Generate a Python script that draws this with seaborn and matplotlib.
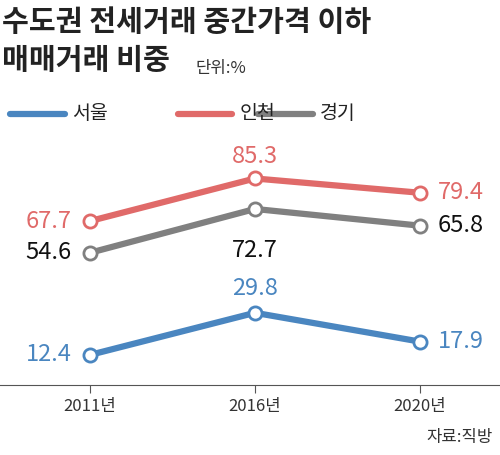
import matplotlib
matplotlib.use("Agg")
import matplotlib.pyplot as plt
import seaborn as sns
import pandas as pd

years = ["2011년", "2016년", "2020년"]
seoul = [12.4, 29.8, 17.9]
incheon = [67.7, 85.3, 79.4]
gyeonggi = [54.6, 72.7, 65.8]
names = ["서울", "인천", "경기"]
colors = ["#4a86c0", "#e06a69", "#808080"]
label_colors = ["#4a86c0", "#e06a69", "#111111"]

sns.set_style("white")
plt.rcParams['font.family'] = ['Noto Sans CJK KR', 'DejaVu Sans']

fig = plt.figure(figsize=(5, 4.55), dpi=100)
ax = fig.add_axes([0, 0.154, 1, 0.516])

rows = []
for n, vals in zip(names, [seoul, incheon, gyeonggi]):
    for i, v in enumerate(vals):
        rows.append({"x": i, "v": v, "s": n})
df = pd.DataFrame(rows)
sns.lineplot(data=df, x="x", y="v", hue="s", palette=dict(zip(names, colors)),
             linewidth=4.5, legend=False, ax=ax)
for vals, c in zip([seoul, incheon, gyeonggi], colors):
    ax.scatter(range(3), vals, s=90, facecolor="white", edgecolor=c, linewidth=2, zorder=5)
offs = {0: [(-0.2, 0), (0, 10), (0.2, 0)], 1: [(-0.2, 0), (0, 9), (0.2, 0)], 2: [(-0.2, 0), (0, -17), (0.2, 0)]}
for k, (vals, lc) in enumerate(zip([seoul, incheon, gyeonggi], label_colors)):
    for i, v in enumerate(vals):
        dx, dy = offs[k][i]
        ha = "right" if dx < 0 else ("left" if dx > 0 else "center")
        ax.text(i + dx * 0.55, v + dy, f"{v}", color=lc, fontsize=17, ha=ha, va="center",
                fontweight="medium" if k == 2 else "normal")

ax.set_xlim(-0.545, 2.485)
ax.set_ylim(0, 97)
ax.set_xticks(range(3))
ax.set_xticklabels(years, fontsize=12, color="#333333")
ax.set_yticks([])
ax.set_xlabel(""); ax.set_ylabel("")
for s in ["top", "left", "right"]:
    ax.spines[s].set_visible(False)
ax.spines["bottom"].set_color("#555555")
ax.tick_params(axis="x", length=6, color="#555555", direction="out", bottom=True)

fig.text(0.005, 0.985, "수도권 전세거래 중간가격 이하", fontsize=21, fontweight="bold", va="top", color="#222222")
fig.text(0.005, 0.90, "매매거래 비중", fontsize=21, fontweight="bold", va="top", color="#222222")
fig.text(0.39, 0.868, "단위:%", fontsize=12, va="top", color="#333333")

lx = [0.02, 0.36, 0.52]
lx = [0.02, 0.36, 0.52]
for x0, n, c in zip([0.02, 0.36, 0.52], names, colors):
    pass
for x0, n, c in zip([0.02, 0.355, 0.515], names, colors):
    fig.add_artist(plt.Line2D([x0, x0 + 0.11], [0.75, 0.75], color=c, lw=4.5))
    fig.text(x0 + 0.125, 0.75, n, fontsize=14, va="center", color="#222222")

fig.text(0.985, 0.02, "자료:직방", fontsize=12, ha="right", va="bottom", color="#333333")
fig.savefig("out.png", dpi=100)
